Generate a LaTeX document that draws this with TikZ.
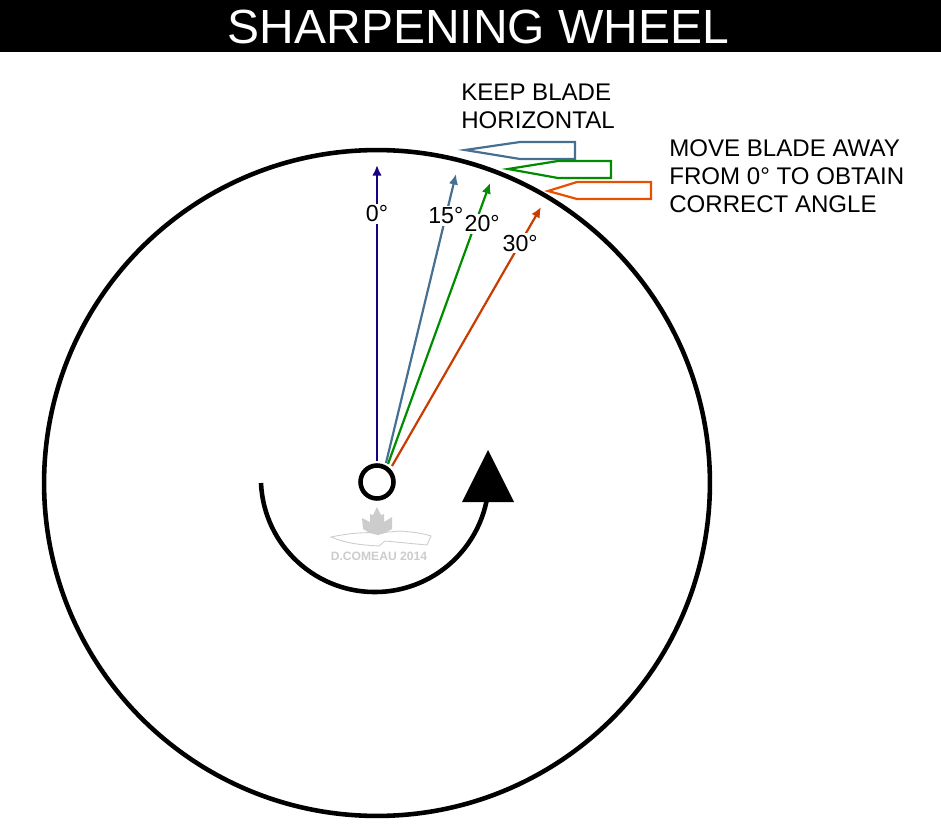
\documentclass[tikz,border=0pt]{standalone}
\usepackage{xcolor}
\usepackage{fontspec}
\usetikzlibrary{arrows.meta,positioning}
\setmainfont{Liberation Sans}
\definecolor{navyarr}{RGB}{26,0,128}
\definecolor{bladeblue}{RGB}{70,112,145}
\definecolor{bladegreen}{RGB}{0,140,0}
\definecolor{bladeorange}{RGB}{230,80,0}
\definecolor{arrorange}{RGB}{200,60,0}
\definecolor{markgrey}{RGB}{204,204,204}
\begin{document}
\begin{tikzpicture}[
  x=0.02cm,y=-0.02cm,
  font=\fontsize{13.7pt}{15.9pt}\selectfont,
  wheel/.style={draw,circle,line width=2.6pt,inner sep=0pt},
  arr/.style={-{Latex[length=6pt,width=5.4pt]},line width=1.25pt},
  deg/.style={fill=white,inner sep=1pt,text=black,font=\fontsize{13.2pt}{15.8pt}\selectfont},
  blade/.style={line width=1.25pt,fill=white},
  note/.style={align=left,anchor=north west,inner sep=0pt},
]
\useasboundingbox (0,0) rectangle (941,825);
\node[fill=black,minimum width=18.82cm,minimum height=1.04cm,inner sep=0pt] (titlebar) at (470.5,26) {};
\node[text=white,inner sep=0pt,font=\fontsize{27.3pt}{32pt}\selectfont] (title) at (478.5,27) {SHARPENING WHEEL};

\node[wheel,minimum size=13.32cm] (rim) at (377,483) {};
\node[wheel,minimum size=0.66cm] (hub) at (377,482) {};

\coordinate (start0) at (377,461);
\coordinate (start15) at (386,463);
\coordinate (start20) at (388,464);
\coordinate (start30) at (392,466);
\coordinate (tip0) at (377,165);
\coordinate (tip15) at (456,174);
\coordinate (tip20) at (490,183);
\coordinate (tip30) at (541,207);

\draw[arr,color=navyarr] (start0) -- (tip0) node[pos=0.835,deg] (lab0) {0°};
\draw[arr,color=bladeblue] (start15) -- (tip15) node[pos=0.855,deg] (lab15) {15°};
\draw[arr,color=bladegreen] (start20) -- (tip20) node[pos=0.855,deg,xshift=0.14cm] (lab20) {20°};
\draw[arr,color=arrorange] (start30) -- (tip30) node[pos=0.86,deg] (lab30) {30°};

\draw[blade,draw=bladeblue] (465,150) -- (520,142) -- (575,142) -- (575,159) -- (520,159) -- cycle;
\draw[blade,draw=bladegreen] (508,169) -- (558,161) -- (611,161) -- (611,178) -- (558,178) -- cycle;
\draw[blade,draw=bladeorange] (548,191) -- (577,182) -- (651,182) -- (651,199) -- (577,199) -- cycle;

\node[note] (keep) at (461,84) {KEEP BLADE\\HORIZONTAL};
\node[note] (move) at (669,139) {MOVE BLADE AWAY\\FROM 0° TO OBTAIN\\CORRECT ANGLE};

\coordinate (spinstart) at (261,483);
\draw[line width=2.6pt] (spinstart) arc[start angle=177.5,end angle=12,radius=114] coordinate (spinend);
\fill (488,450) -- (514,502) -- (462,502) -- cycle;

\fill[markgrey] (377,507) -- (381,515) -- (384,514) -- (384,522) -- (392,517) -- (392,529) -- (385,533) -- (378,535) -- (370,533) -- (363,529) -- (362,518) -- (370,522) -- (370,514) -- (373,515) -- cycle;
\draw[markgrey,line width=0.5pt] (331,537) .. controls (350,533) and (365,532) .. (378,533) -- (400,531) .. controls (412,532) and (422,533) .. (431,536) -- (427,545) -- (385,541) -- (379,546) .. controls (360,545) and (345,543) .. (331,537) -- cycle;
\node[text=markgrey,font=\bfseries\fontsize{6.9pt}{8pt}\selectfont,inner sep=0pt] (mark) at (379,556) {D.COMEAU 2014};
\end{tikzpicture}
\end{document}
